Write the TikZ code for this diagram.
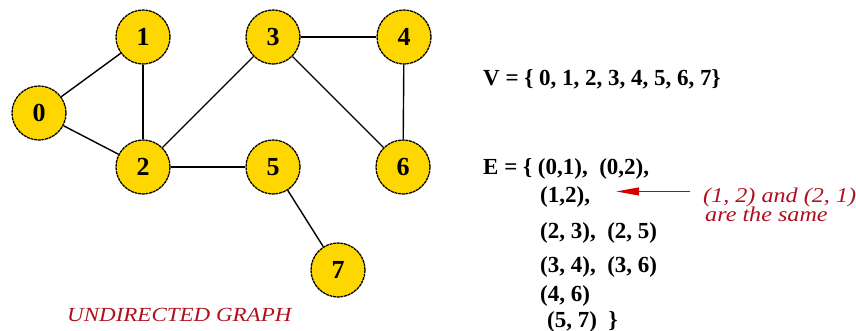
\documentclass[tikz,border=0pt]{standalone}
\usepackage{fontspec}
\setmainfont{Liberation Serif}
\newfontfamily\wideserif[FakeStretch=1.15]{Liberation Serif}
\usepackage{xcolor}
\usetikzlibrary{arrows.meta,positioning,calc}
\definecolor{Gold}{HTML}{FFD700}
\definecolor{NoteRed}{HTML}{B0101E}
\definecolor{ArrowRed}{HTML}{D40000}

\begin{document}
\begin{tikzpicture}[x=1pt,y=-1pt]
  \path[use as bounding box] (0,0) rectangle (856,331);

  \tikzset{
    vertex/.style={
      circle,
      draw=black,
      fill=Gold,
      line width=1.3pt,
      dash pattern=on 3pt off .7pt,
      minimum size=54pt,
      inner sep=0pt,
      font=\fontsize{26}{26}\selectfont\bfseries
    },
    edge/.style={
      draw=black,
      line width=1.4pt
    },
    setText/.style={
      anchor=base west,
      inner sep=0pt,
      font=\fontsize{23}{25}\selectfont\bfseries
    },
    noteText/.style={
      anchor=base west,
      inner sep=0pt,
      text=NoteRed,
      font=\fontsize{21}{23}\selectfont\wideserif\itshape
    },
    noteArrow/.style={
      -{Triangle[length=23pt,width=8pt]},
      draw=ArrowRed,
      line width=1.3pt
    }
  }

  % vertices of the graph
  \node[vertex] (v0) at (39,113)  {0};
  \node[vertex] (v1) at (143,37)  {1};
  \node[vertex] (v2) at (143,167) {2};
  \node[vertex] (v3) at (273,37)  {3};
  \node[vertex] (v4) at (404,37)  {4};
  \node[vertex] (v5) at (273,167) {5};
  \node[vertex] (v6) at (403,167) {6};
  \node[vertex] (v7) at (338,270) {7};

  % undirected edges
  \draw[edge] (v0) -- (v1);
  \draw[edge] (v0) -- (v2);
  \draw[edge] (v1) -- (v2);
  \draw[edge] (v2) -- (v3);
  \draw[edge] (v2) -- (v5);
  \draw[edge] (v3) -- (v4);
  \draw[edge] (v3) -- (v6);
  \draw[edge] (v4) -- (v6);
  \draw[edge] (v5) -- (v7);

  \node[noteText,font=\fontsize{20}{22}\selectfont\wideserif\itshape] (title)
    at (67,321) {UNDIRECTED GRAPH};

  % vertex and edge sets
  \node[setText] (vset) at (483,86)  {V = \{ 0, 1, 2, 3, 4, 5, 6, 7\}};
  \node[setText] (eset) at (483,175) {E = \{ (0,1),\ \ (0,2),};
  \node[setText] (e12)  at (540,203) {(1,2),};
  \node[setText] (e23)  at (540,238) {(2, 3),\ \ (2, 5)};
  \node[setText] (e34)  at (540,272) {(3, 4),\ \ (3, 6)};
  \node[setText] (e46)  at (540,301) {(4, 6)};
  \node[setText] (e57)  at (547,327) {(5, 7)\ \ \}};

  % remark on the edge (1,2)
  \node[noteText] (note1) at (703,202) {(1, 2) and (2, 1)};
  \node[noteText] (note2) at (705,221) {are the same};
  \coordinate (tip) at ($(e12.east)+(26,-6)$);
  \draw[noteArrow] (note1.west |- tip) ++(-13,0) -- (tip);
\end{tikzpicture}
\end{document}
